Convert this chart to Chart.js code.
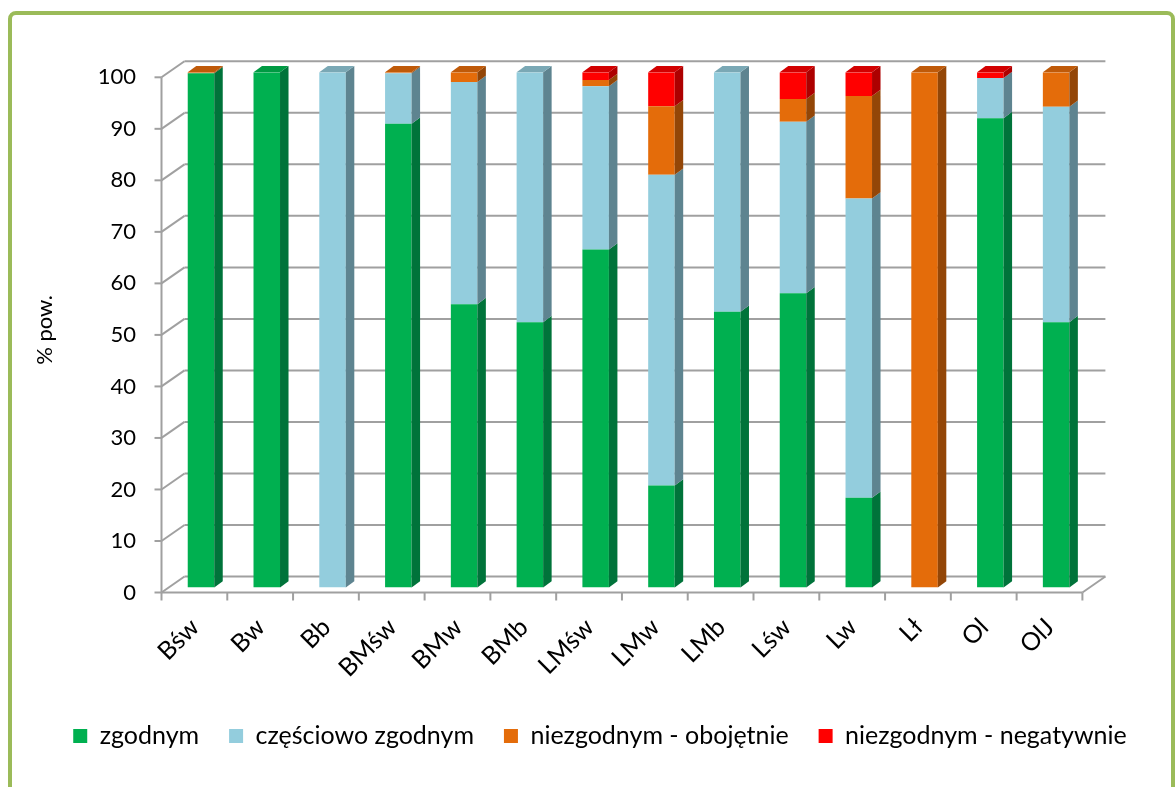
<!DOCTYPE html>
<html>
<head>
<meta charset="utf-8">
<script src="https://cdn.jsdelivr.net/npm/chart.js@4.4.0/dist/chart.umd.min.js"></script>
<style>
  html, body { margin: 0; padding: 0; background: #ffffff; }
  #wrap { width: 1176px; height: 787px; position: relative; }
</style>
</head>
<body>
<div id="wrap"><canvas id="chart" width="1176" height="787"></canvas></div>
<script>
// Udział powierzchni (%) wg zgodności – kategorie siedlisk
const categories = ['Bśw', 'Bw', 'Bb', 'BMśw', 'BMw', 'BMb', 'LMśw', 'LMw', 'LMb', 'Lśw', 'Lw', 'Lł', 'Ol', 'OlJ'];
const zgodnym              = [99.8, 100, 0, 90.0, 55.0, 51.5, 65.6, 19.8, 53.5, 57.1, 17.4, 0, 91.1, 51.5];
const czesciowoZgodnym     = [0, 0, 100, 9.8, 43.1, 48.5, 31.7, 60.3, 46.5, 33.3, 58.1, 0, 7.8, 41.8];
const niezgodnymObojetnie  = [0.2, 0, 0, 0.2, 1.9, 0, 1.2, 13.3, 0, 4.4, 19.9, 100, 0, 6.7];
const niezgodnymNegatywnie = [0, 0, 0, 0, 0, 0, 1.5, 6.6, 0, 5.2, 4.6, 0, 1.1, 0];
const seriesNames = ['zgodnym', 'częściowo zgodnym', 'niezgodnym - obojętnie', 'niezgodnym - negatywnie'];
const yTickValues = [0, 10, 20, 30, 40, 50, 60, 70, 80, 90, 100];

// colours of the three visible faces of each bar segment
const faceColors = [
  { front: '#00b050', side: '#00733a', top: '#009a43' },
  { front: '#93cddd', side: '#5e8490', top: '#7aa8b5' },
  { front: '#e46c0a', side: '#934607', top: '#bf5a09' },
  { front: '#ff0000', side: '#ad0000', top: '#d20000' }
];

// depth of a bar and offsets of the front plane / back wall relative to the bar fronts
const BAR_DX = 8.5, BAR_DY = 6.3;
const FRONT = { dx: -6.6, dy: 5 };
const BACK = { dx: 16.4, dy: -11 };
const GRID_COLOR = '#a0a0a0';
const FONT = 'Lato, "Open Sans", sans-serif';

function line(ctx, x1, y1, x2, y2) {
  ctx.beginPath();
  ctx.moveTo(x1, y1);
  ctx.lineTo(x2, y2);
  ctx.stroke();
}
function poly(ctx, pts, color) {
  ctx.beginPath();
  ctx.moveTo(pts[0][0], pts[0][1]);
  for (let k = 1; k < pts.length; k++) ctx.lineTo(pts[k][0], pts[k][1]);
  ctx.closePath();
  ctx.fillStyle = color;
  ctx.fill();
}

const box3d = {
  id: 'box3d',
  beforeDraw(chart) {
    const ctx = chart.ctx;
    ctx.save();
    ctx.fillStyle = '#ffffff';
    ctx.fillRect(0, 0, chart.width, chart.height);
    // outer frame
    ctx.strokeStyle = '#9bbb59';
    ctx.lineWidth = 4;
    ctx.beginPath();
    ctx.roundRect(10, 13, 1163, 800, 6);
    ctx.stroke();
    ctx.restore();
  },
  beforeDatasetsDraw(chart) {
    const { ctx, chartArea } = chart;
    const y = chart.scales.y;
    const L = chartArea.left, R = chartArea.right;
    const n = categories.length;
    const step = (R - L) / n;
    const y0 = y.getPixelForValue(0);
    const y100 = y.getPixelForValue(100);
    ctx.save();
    ctx.strokeStyle = GRID_COLOR;
    ctx.lineWidth = 2;
    ctx.lineCap = 'butt';
    yTickValues.forEach(v => {
      const py = y.getPixelForValue(v);
      // side wall edge and back wall gridline
      line(ctx, L + FRONT.dx, py + FRONT.dy, L + BACK.dx, py + BACK.dy);
      line(ctx, L + BACK.dx, py + BACK.dy, R + BACK.dx, py + BACK.dy);
      // tick mark on the front axis
      line(ctx, L + FRONT.dx - 7, py + FRONT.dy, L + FRONT.dx, py + FRONT.dy);
    });
    // front vertical axis
    line(ctx, L + FRONT.dx, y0 + FRONT.dy, L + FRONT.dx, y100 + FRONT.dy);
    // floor: front edge and right bevel
    line(ctx, L + FRONT.dx, y0 + FRONT.dy, R + FRONT.dx, y0 + FRONT.dy);
    line(ctx, R + FRONT.dx, y0 + FRONT.dy, R + BACK.dx, y0 + BACK.dy);
    // category tick marks on the front edge
    for (let k = 0; k <= n; k++) {
      const px = L + k * step + FRONT.dx;
      line(ctx, px, y0 + FRONT.dy, px, y0 + FRONT.dy + 8);
    }
    ctx.restore();
  },
  afterDatasetsDraw(chart) {
    const ctx = chart.ctx;
    ctx.save();
    for (let j = 0; j < categories.length; j++) {
      let topSeg = null;
      chart.data.datasets.forEach((ds, i) => {
        const meta = chart.getDatasetMeta(i);
        if (meta.hidden || !ds.data[j]) return;
        const el = meta.data[j];
        const p = el.getProps(['x', 'y', 'base', 'width'], true);
        const xr = p.x + p.width / 2;
        poly(ctx, [[xr, p.y], [xr + BAR_DX, p.y - BAR_DY], [xr + BAR_DX, p.base - BAR_DY], [xr, p.base]], faceColors[i].side);
        topSeg = { p, i };
      });
      if (topSeg) {
        const { p, i } = topSeg;
        const xl = p.x - p.width / 2, xr = p.x + p.width / 2;
        poly(ctx, [[xl, p.y], [xl + BAR_DX, p.y - BAR_DY], [xr + BAR_DX, p.y - BAR_DY], [xr, p.y]], faceColors[i].top);
      }
    }
    ctx.restore();
  }
};

const seriesValues = [zgodnym, czesciowoZgodnym, niezgodnymObojetnie, niezgodnymNegatywnie];
const datasets = seriesValues.map((vals, i) => ({
  label: seriesNames[i],
  data: vals,
  backgroundColor: faceColors[i].front,
  borderWidth: 0,
  categoryPercentage: 1.0,
  barPercentage: 0.403
}));

new Chart(document.getElementById('chart'), {
  type: 'bar',
  data: { labels: categories, datasets },
  plugins: [box3d],
  options: {
    responsive: false,
    animation: false,
    devicePixelRatio: 1,
    layout: { padding: { left: 24, top: 72.3, right: 0, bottom: 28.5 } },
    plugins: {
      tooltip: { enabled: false },
      legend: {
        position: 'bottom',
        labels: {
          boxWidth: 14,
          boxHeight: 14,
          padding: 30,
          color: '#000000',
          font: { family: FONT, size: 25 }
        }
      }
    },
    scales: {
      x: {
        stacked: true,
        grid: { display: false, drawTicks: false },
        border: { display: false },
        ticks: {
          minRotation: 45,
          maxRotation: 45,
          autoSkip: false,
          padding: 25,
          labelOffset: -6,
          color: '#000000',
          font: { family: FONT, size: 25 }
        },
        afterFit(scale) { scale.height = 106; }
      },
      y: {
        stacked: true,
        min: 0,
        max: 100,
        grid: { display: false, drawTicks: false },
        border: { display: false },
        ticks: {
          stepSize: 10,
          padding: 32,
          labelOffset: 5,
          color: '#000000',
          font: { family: FONT, size: 22 }
        },
        title: {
          display: true,
          text: '% pow.',
          color: '#000000',
          padding: { top: 8, bottom: 0 },
          font: { family: FONT, size: 22 }
        },
        afterFit(scale) { scale.width = 144.1; }
      },
      // empty margin on the right of the plot (keeps room for the back wall)
      yRight: {
        type: 'linear',
        position: 'right',
        min: 0,
        max: 1,
        grid: { display: false, drawTicks: false },
        border: { display: false },
        ticks: { display: false },
        afterFit(scale) { scale.width = 87; }
      }
    }
  }
});
</script>
</body>
</html>
